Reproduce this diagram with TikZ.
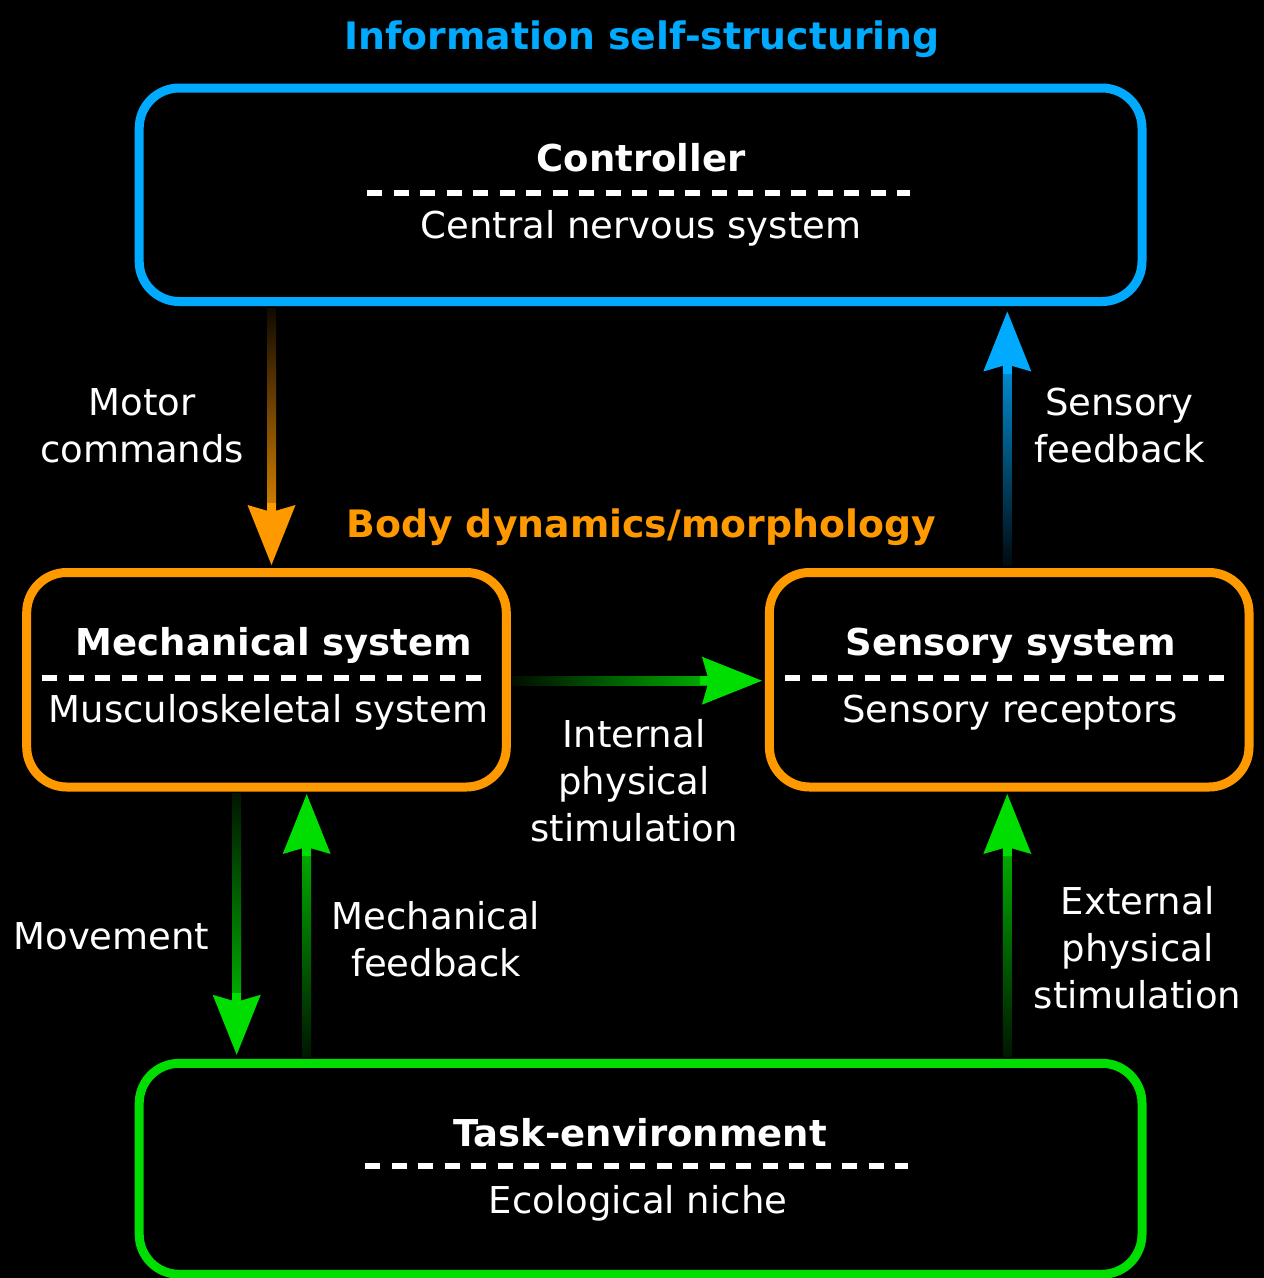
\documentclass[tikz,border=0pt]{standalone}
\usepackage{fontspec}
\setmainfont{DejaVu Sans}
\usetikzlibrary{arrows.meta,calc}
\definecolor{blu}{RGB}{0,170,255}
\definecolor{ora}{RGB}{255,153,0}
\definecolor{grn}{RGB}{0,221,0}
\newcommand\fsz{\fontsize{37}{47}\selectfont}
\newcommand\hsz{\fontsize{37.8}{47}\selectfont}
\tikzset{
  box/.style={draw=#1, line width=9pt, rounded corners=40pt, fill=black, inner sep=0pt, outer sep=4.5pt},
  lab/.style={text=white, align=center, font=\fsz, inner sep=0pt},
  boldlab/.style={text=white, font=\fsz\bfseries, inner sep=0pt},
  heading/.style={font=\hsz\bfseries, text=#1, inner sep=0pt},
  sepline/.style={draw=white, line width=6pt, dash pattern=on 15pt off 11.5pt},
  headtip/.style={-{Stealth[length=60pt,width=48pt,inset=7pt,line width=0pt]}, line width=9pt},
}
\begin{document}
\begin{tikzpicture}[x=1pt,y=-1pt]
\useasboundingbox (0,0) rectangle (1264,1278);
\fill[black] (0,0) rectangle (1264,1278);

% boxes
\node[box=blu, minimum width=1002.8pt, minimum height=213.5pt] (ctrl) at (640.6,194.75) {};
\node[box=ora, minimum width=479.6pt, minimum height=214.5pt] (mech) at (266.5,679.75) {};
\node[box=ora, minimum width=479.6pt, minimum height=214.5pt] (sens) at (1009.2,679.75) {};
\node[box=grn, minimum width=1002.8pt, minimum height=211pt] (task) at (640.6,1168.8) {};

% headings
\node[heading=blu, anchor=base] (info) at (642,49) {Information self-structuring};
\node[heading=ora, anchor=base] (body) at (641,537) {Body dynamics/morphology};

% box texts
\node[boldlab, anchor=base] (ctrlT) at (641,171) {Controller};
\draw[sepline] (367,193) -- (910,193);
\node[lab, anchor=base] (ctrlS) at (641,238) {Central nervous system};

\node[boldlab, anchor=base] (mechT) at (274,655) {Mechanical system};
\draw[sepline] (42,678) -- (487,678);
\node[lab, anchor=base] (mechS) at (268.5,722) {Musculoskeletal system};

\node[boldlab, anchor=base] (sensT) at (1010.5,655) {Sensory system};
\draw[sepline] (785,678) -- (1230,678);
\node[lab, anchor=base] (sensS) at (1010,722) {Sensory receptors};

\node[boldlab, anchor=base] (taskT) at (640,1146) {Task-environment};
\draw[sepline] (365,1166) -- (908,1166);
\node[lab, anchor=base] (taskS) at (638,1213) {Ecological niche};

% arrow coordinates
\coordinate (xm) at (271.5,0);
\coordinate (xs) at (1007.3,0);
\coordinate (xmv) at (236.7,0);
\coordinate (xmf) at (306.7,0);
\coordinate (yi) at (0,680.7);

% Motor commands (down, orange)
\path (ctrl.south -| xm) ++(0,2) coordinate (mc1) (mech.north -| xm) ++(0,-3) coordinate (mc2);
\shade[top color=ora!6!black, bottom color=ora!85!black] ($(mc1)+(-4.5,0)$) rectangle ($(mc2)+(4.5,-48)$);
\draw[ora, headtip] ($(mc2)+(0,-62)$) -- (mc2);

% Sensory feedback (up, blue)
\path (sens.north -| xs) ++(0,-3) coordinate (sf1) (ctrl.south -| xs) ++(0,5.5) coordinate (sf2);
\shade[bottom color=blu!6!black, top color=blu!85!black] ($(sf1)+(-4.5,0)$) rectangle ($(sf2)+(4.5,48)$);
\draw[blu, headtip] ($(sf2)+(0,62)$) -- (sf2);

% Internal physical stimulation (right, green)
\path (mech.east |- yi) ++(1.5,0) coordinate (ip1) (sens.west |- yi) ++(-3,0) coordinate (ip2);
\shade[left color=grn!6!black, right color=grn!80!black] ($(ip1)+(0,-4.5)$) rectangle ($(ip2)+(-48,4.5)$);
\draw[grn, headtip] ($(ip2)+(-62,0)$) -- (ip2);

% Movement (down, green)
\path (mech.south -| xmv) ++(0,1.5) coordinate (mv1) (task.north -| xmv) ++(0,-4) coordinate (mv2);
\shade[top color=grn!10!black, bottom color=grn!80!black] ($(mv1)+(-4.5,0)$) rectangle ($(mv2)+(4.5,-48)$);
\draw[grn, headtip] ($(mv2)+(0,-62)$) -- (mv2);

% Mechanical feedback (up, green)
\path (task.north -| xmf) ++(0,-2) coordinate (mf1) (mech.south -| xmf) ++(0,2.5) coordinate (mf2);
\shade[bottom color=grn!10!black, top color=grn!80!black] ($(mf1)+(-4.5,0)$) rectangle ($(mf2)+(4.5,48)$);
\draw[grn, headtip] ($(mf2)+(0,62)$) -- (mf2);

% External physical stimulation (up, green)
\path (task.north -| xs) ++(0,-2) coordinate (ep1) (sens.south -| xs) ++(0,2.5) coordinate (ep2);
\shade[bottom color=grn!10!black, top color=grn!80!black] ($(ep1)+(-4.5,0)$) rectangle ($(ep2)+(4.5,48)$);
\draw[grn, headtip] ($(ep2)+(0,62)$) -- (ep2);

% labels (base anchor = baseline of last line)
\node[lab, anchor=base] (lmc) at (142,462) {Motor\\commands};
\node[lab, anchor=base] (lsf) at (1119.5,462) {Sensory\\feedback};
\node[lab, anchor=base] (lip) at (634,841) {Internal\\physical\\stimulation};
\node[lab, anchor=base] (lmv) at (111.5,949) {Movement};
\node[lab, anchor=base] (lmf) at (436,976) {Mechanical\\feedback};
\node[lab, anchor=base] (lep) at (1137.5,1008) {External\\physical\\stimulation};
\end{tikzpicture}
\end{document}
